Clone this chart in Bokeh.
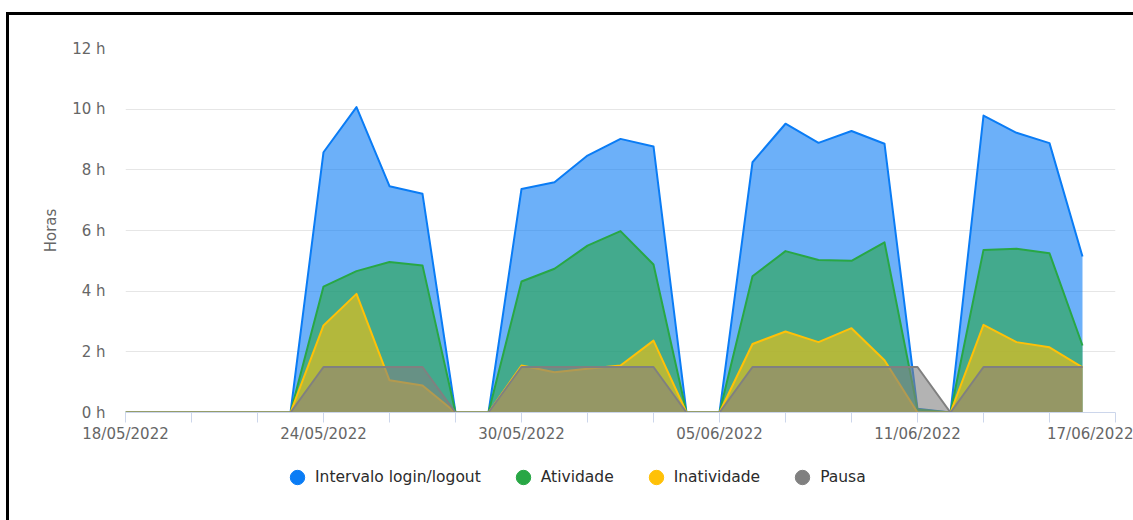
from datetime import datetime
from bokeh.plotting import figure
from bokeh.layouts import column
from bokeh.models import (FixedTicker, DatetimeTickFormatter, PrintfTickFormatter,
                          Legend, LegendItem, ColumnDataSource)
from bokeh.embed import file_html
from bokeh.resources import INLINE

dates = ["2022-05-18", "2022-05-19", "2022-05-20", "2022-05-21", "2022-05-22", "2022-05-23",
         "2022-05-24", "2022-05-25", "2022-05-26", "2022-05-27", "2022-05-28", "2022-05-29",
         "2022-05-30", "2022-05-31", "2022-06-01", "2022-06-02", "2022-06-03", "2022-06-04",
         "2022-06-05", "2022-06-06", "2022-06-07", "2022-06-08", "2022-06-09", "2022-06-10",
         "2022-06-11", "2022-06-12", "2022-06-13", "2022-06-14", "2022-06-15", "2022-06-16"]

intervalo = [0, 0, 0, 0, 0, 0,
             8.58, 10.07, 7.46, 7.21, 0, 0,
             7.37, 7.59, 8.47, 9.02, 8.77, 0,
             0, 8.25, 9.52, 8.89, 9.28, 8.86,
             0.12, 0, 9.79, 9.22, 8.88, 5.14]
atividade = [0, 0, 0, 0, 0, 0,
             4.15, 4.66, 4.96, 4.85, 0, 0,
             4.32, 4.74, 5.50, 5.98, 4.88, 0,
             0, 4.49, 5.32, 5.03, 5.00, 5.61,
             0.10, 0, 5.36, 5.40, 5.25, 2.21]
inatividade = [0, 0, 0, 0, 0, 0,
               2.87, 3.91, 1.06, 0.89, 0, 0,
               1.55, 1.33, 1.44, 1.55, 2.37, 0,
               0, 2.26, 2.67, 2.32, 2.78, 1.72,
               0, 0, 2.89, 2.32, 2.15, 1.49]
pausa = [0, 0, 0, 0, 0, 0,
         1.5, 1.5, 1.5, 1.5, 0, 0,
         1.5, 1.5, 1.5, 1.5, 1.5, 0,
         0, 1.5, 1.5, 1.5, 1.5, 1.5,
         1.5, 0, 1.5, 1.5, 1.5, 1.5]

series_names = ["Intervalo login/logout", "Atividade", "Inatividade", "Pausa"]
series_colors = ["#0a7cf5", "#28a745", "#ffc107", "#808080"]

major_tick_dates = ["2022-05-18", "2022-05-24", "2022-05-30", "2022-06-05", "2022-06-11", "2022-06-17"]
minor_tick_dates = ["2022-05-20", "2022-05-22", "2022-05-26", "2022-05-28", "2022-06-01",
                    "2022-06-03", "2022-06-07", "2022-06-09", "2022-06-13", "2022-06-15"]
y_ticks = [0, 2, 4, 6, 8, 10, 12]


def to_dt(s):
    return datetime.strptime(s, "%Y-%m-%d")


def to_ms(s):
    return (to_dt(s) - datetime(1970, 1, 1)).total_seconds() * 1000.0


x = [to_dt(d) for d in dates]
source = ColumnDataSource(dict(x=x, intervalo=intervalo, atividade=atividade,
                               inatividade=inatividade, pausa=pausa,
                               zero=[0] * len(x)))

p = figure(width=1124, height=440, x_axis_type="datetime",
           x_range=(to_dt(major_tick_dates[0]), to_dt(major_tick_dates[-1])),
           y_range=(0, 12), output_backend="svg", toolbar_location=None,
           min_border_left=116, min_border_right=18, min_border_top=33, min_border_bottom=43)

p.outline_line_color = None
p.background_fill_color = "white"
p.xgrid.grid_line_color = None
p.ygrid.grid_line_color = "#e6e6e6"
p.ygrid.grid_line_width = 1

cols = ["intervalo", "atividade", "inatividade", "pausa"]
for col, c in zip(cols, series_colors):
    p.varea(x="x", y1="zero", y2=col, source=source, fill_color=c, fill_alpha=0.6)
    p.line(x="x", y=col, source=source, line_color=c, line_width=2, line_join="round")

# x axis
xa = p.xaxis[0]
xa.ticker = FixedTicker(ticks=[to_ms(d) for d in major_tick_dates],
                        minor_ticks=[to_ms(d) for d in minor_tick_dates])
fmt = "%d/%m/%Y"
xa.formatter = DatetimeTickFormatter(milliseconds=fmt, seconds=fmt, minsec=fmt, minutes=fmt,
                                     hourmin=fmt, hours=fmt, days=fmt, months=fmt, years=fmt)
xa.axis_line_color = "#ccd6eb"
xa.major_tick_line_color = "#ccd6eb"
xa.minor_tick_line_color = "#ccd6eb"
xa.major_tick_out = 10
xa.major_tick_in = 0
xa.minor_tick_out = 10
xa.minor_tick_in = 0
xa.major_label_standoff = 2
xa.major_label_text_font = "DejaVu Sans"
xa.major_label_text_font_size = "15px"
xa.major_label_text_color = "#666666"

# y axis
ya = p.yaxis[0]
ya.ticker = FixedTicker(ticks=y_ticks)
ya.formatter = PrintfTickFormatter(format="%d h")
ya.axis_line_color = None
ya.major_tick_line_color = None
ya.minor_tick_line_color = None
ya.major_tick_out = 0
ya.major_label_standoff = 20
ya.major_label_text_font = "DejaVu Sans"
ya.major_label_text_font_size = "15px"
ya.major_label_text_color = "#666666"
ya.axis_label = "Horas"
ya.axis_label_text_font = "DejaVu Sans"
ya.axis_label_text_font_size = "15px"
ya.axis_label_text_font_style = "normal"
ya.axis_label_text_color = "#666666"
ya.axis_label_standoff = 9

# legend in its own strip below the chart
lf = figure(width=1124, height=65, x_range=(0, 1124), y_range=(0, 65),
            output_backend="svg", toolbar_location=None,
            x_axis_location=None, y_axis_location=None,
            min_border_left=0, min_border_right=0, min_border_top=0, min_border_bottom=0)
lf.outline_line_color = None
lf.grid.grid_line_color = None

items = []
for name, c in zip(series_names, series_colors):
    r = lf.scatter(x=[-100], y=[-100], marker="circle", size=14, fill_color=c, line_color=c)
    items.append(LegendItem(label=name, renderers=[r]))

legend = Legend(items=items, orientation="horizontal", location=(154, 25),
                glyph_width=36, glyph_height=36, label_standoff=0, spacing=24,
                padding=0, margin=0, border_line_color=None, background_fill_alpha=0,
                label_text_font="DejaVu Sans", label_text_font_size="15.5px",
                label_text_color="#2b2b2b", label_text_font_style="normal")
lf.add_layout(legend)

layout = column(p, lf, spacing=0)
layout.styles = {"border-top": "3px solid #000", "border-left": "3px solid #000",
                 "margin-top": "12px", "margin-left": "6px"}

open("out.html", "w").write(file_html(layout, INLINE))
